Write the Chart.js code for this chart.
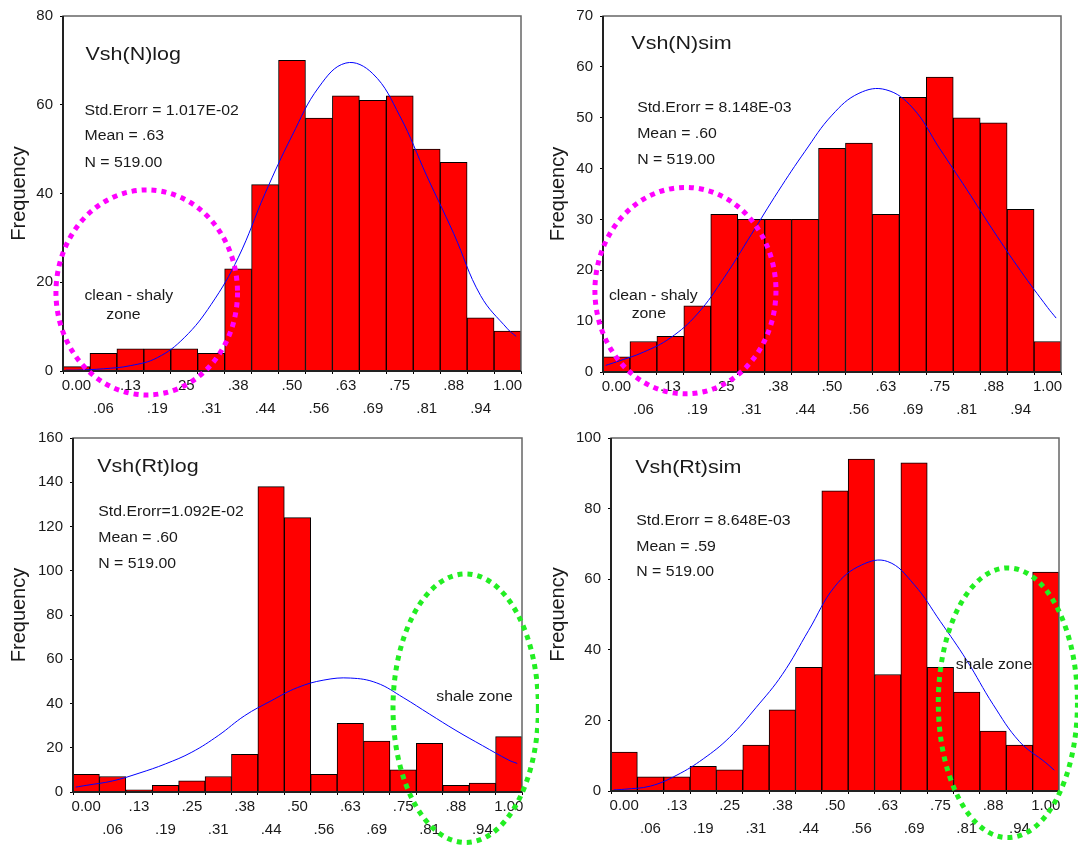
<!DOCTYPE html>
<html>
<head>
<meta charset="utf-8">
<script src="https://cdn.jsdelivr.net/npm/chart.js@4.4.0/dist/chart.umd.min.js"></script>
<style>
  body { margin: 0; background: #fff; }
  #wrap { position: relative; width: 1078px; height: 845px; }
  canvas { position: absolute; }
</style>
</head>
<body>
<div id="wrap">
  <canvas id="c1" width="539" height="422" style="left:0;top:0"></canvas>
  <canvas id="c2" width="539" height="422" style="left:539px;top:0"></canvas>
  <canvas id="c3" width="539" height="423" style="left:0;top:422px"></canvas>
  <canvas id="c4" width="539" height="423" style="left:539px;top:422px"></canvas>
</div>
<script>
// bin labels (bin width 0.0625, as printed by the histogram)
const binLabels = ['0.00', '.06', '.13', '.19', '.25', '.31', '.38', '.44', '.50',
                   '.56', '.63', '.69', '.75', '.81', '.88', '.94', '1.00'];

// bar counts
const vshNLog  = [1, 4, 5, 5, 5, 4, 23, 42, 70, 57, 62, 61, 62, 50, 47, 12, 9];
const vshNSim  = [3, 6, 7, 13, 31, 30, 30, 30, 44, 45, 31, 54, 58, 50, 49, 32, 6];
const vshRtLog = [8, 7, 1, 3, 5, 7, 17, 138, 124, 8, 31, 23, 10, 22, 3, 4, 25];
const vshRtSim = [11, 4, 4, 7, 6, 13, 23, 35, 85, 94, 33, 93, 35, 28, 17, 13, 62];

// normal curve, sampled at the bin centres (plus the two ends)
const curveX = [-0.025, 0, 0.0625, 0.125, 0.1875, 0.25, 0.3125, 0.375, 0.4375, 0.5,
                0.5625, 0.625, 0.6875, 0.75, 0.8125, 0.875, 0.9375, 1, 1.02];
const curveNLog  = [0.2, 0.2, 0.5, 1.2, 3, 7.5, 15, 25.5, 40, 53, 64, 69.4, 67, 57.5, 44, 31, 17, 9.5, 7.8];
const curveNSim  = [1.3, 2, 3.9, 6.7, 11.4, 18.6, 27, 35.5, 43.4, 50.5, 54.8, 55.5, 51.9, 43.9, 35.9, 27.7, 19.9, 12.7, 10.6];
const curveRtLog = [2.2, 3, 5, 8.5, 12.7, 18, 25.5, 34.5, 41.2, 47.2, 50.6, 51.5, 49.3, 42.7, 35.2, 27.8, 21, 14.4, 12.9];
const curveRtSim = [0.3, 0.5, 1.4, 4.5, 9.1, 15.2, 23.6, 33, 45.5, 58, 64, 65, 58.5, 48, 37, 24.5, 14, 8, 5.9];

const FONT = '"Liberation Sans", Arial, sans-serif';
const MAGENTA = '#ff00ff';
const GREEN = '#22ee22';

// frame, texts and dotted ellipses, placed in data units
const notesPlugin = {
  id: 'notes',
  afterDraw(chart, args, opts) {
    const { ctx, chartArea: a } = chart;
    const xs = chart.scales.xl, ys = chart.scales.y;
    ctx.save();
    ctx.strokeStyle = '#666';
    ctx.lineWidth = 1.5;
    ctx.strokeRect(a.left, a.top, a.right - a.left, a.bottom - a.top);
    ctx.strokeStyle = '#222';
    ctx.lineWidth = 2;
    ctx.beginPath();
    ctx.moveTo(a.left, a.top);
    ctx.lineTo(a.left, a.bottom);
    ctx.lineTo(a.right, a.bottom);
    ctx.stroke();

    // the source text is a little wider than it is tall, so stretch it
    ctx.fillStyle = '#1a1a1a';
    ctx.textBaseline = 'middle';
    (opts.texts || []).forEach(t => {
      ctx.save();
      ctx.font = t.size + 'px ' + FONT;
      ctx.textAlign = t.align || 'left';
      ctx.translate(xs.getPixelForValue(t.x), ys.getPixelForValue(t.y));
      ctx.scale(1.13, 1);
      ctx.fillText(t.text, 0, 0);
      ctx.restore();
    });

    const e = opts.ellipse;
    if (e) {
      const cx = xs.getPixelForValue(e.x), cy = ys.getPixelForValue(e.y);
      const rx = xs.getPixelForValue(e.x + e.rx) - cx;
      const ry = cy - ys.getPixelForValue(e.y + e.ry);
      ctx.strokeStyle = e.color;
      ctx.lineWidth = 5;
      ctx.setLineDash([5, 5]);
      ctx.beginPath();
      ctx.ellipse(cx, cy, rx, ry, 0, 0, Math.PI * 2);
      ctx.stroke();
    }
    ctx.restore();
  }
};

function drawPanel(id, counts, curve, yMax, yStep, area, notes) {
  const cv = document.getElementById(id);
  const W = cv.width, H = cv.height;
  return new Chart(cv, {
    type: 'bar',
    data: {
      labels: binLabels,
      datasets: [
        {
          type: 'line',
          data: curveX.map((x, i) => ({ x: x, y: curve[i] })),
          xAxisID: 'xl',
          yAxisID: 'y',
          borderColor: '#0000ff',
          borderWidth: 1,
          pointRadius: 0,
          tension: 0.4,
          fill: false,
          order: 1
        },
        {
          data: counts,
          xAxisID: 'x',
          yAxisID: 'y',
          backgroundColor: '#ff0000',
          borderColor: '#000',
          borderWidth: 1,
          grouped: false,
          barPercentage: 1,
          categoryPercentage: 1,
          order: 2
        }
      ]
    },
    options: {
      responsive: false,
      animation: false,
      events: [],
      layout: { padding: { left: 0, top: area.top, right: W - area.right, bottom: 0 } },
      plugins: { legend: { display: false }, tooltip: { enabled: false }, notes: notes },
      scales: {
        x: {
          type: 'category',
          offset: true,
          border: { display: false },
          grid: { drawOnChartArea: false, drawTicks: true, tickLength: 3, color: '#000' },
          ticks: {
            autoSkip: false,
            maxRotation: 0,
            padding: 0,
            color: '#1a1a1a',
            font: { family: FONT, size: 15, lineHeight: '23px' },
            callback: (v, i) => i % 2 === 0 ? [binLabels[i], ''] : ['', binLabels[i]]
          },
          afterFit: s => { s.height = H - area.bottom; }
        },
        // hidden value axis for the curve and the notes, spanning the bin edges
        xl: { type: 'linear', display: false, offset: false, min: -0.03125, max: 1.03125 },
        y: {
          min: 0,
          max: yMax,
          border: { display: false },
          grid: { drawOnChartArea: false, drawTicks: true, tickLength: 3, color: '#000' },
          ticks: { stepSize: yStep, padding: 7, color: '#1a1a1a', font: { family: FONT, size: 15 } },
          title: {
            display: true,
            text: 'Frequency',
            color: '#1a1a1a',
            padding: { top: 7, bottom: 0 },
            font: { family: FONT, size: 20 }
          },
          afterFit: s => { s.width = area.left; }
        }
      }
    },
    plugins: [notesPlugin]
  });
}

drawPanel('c1', vshNLog, curveNLog, 80, 20, { left: 63, right: 521, top: 13, bottom: 371 }, {
  texts: [
    { text: 'Vsh(N)log', x: 0.021, y: 71.3, size: 19 },
    { text: 'Std.Erorr = 1.017E-02', x: 0.0186, y: 58.6, size: 14 },
    { text: 'Mean = .63', x: 0.0186, y: 52.9, size: 14 },
    { text: 'N = 519.00', x: 0.0186, y: 46.9, size: 14 },
    { text: 'clean - shaly', x: 0.1215, y: 16.8, size: 14, align: 'center' },
    { text: 'zone', x: 0.109, y: 12.6, size: 14, align: 'center' }
  ],
  ellipse: { x: 0.163, y: 17.7, rx: 0.2106, ry: 23.1, color: MAGENTA }
});

drawPanel('c2', vshNSim, curveNSim, 70, 10, { left: 64, right: 522, top: 13, bottom: 372 }, {
  texts: [
    { text: 'Vsh(N)sim', x: 0.0345, y: 64.6, size: 19 },
    { text: 'Std.Erorr = 8.148E-03', x: 0.048, y: 51.9, size: 14 },
    { text: 'Mean = .60', x: 0.048, y: 46.8, size: 14 },
    { text: 'N = 519.00', x: 0.048, y: 41.6, size: 14 },
    { text: 'clean - shaly', x: 0.0854, y: 15, size: 14, align: 'center' },
    { text: 'zone', x: 0.075, y: 11.4, size: 14, align: 'center' }
  ],
  ellipse: { x: 0.160, y: 16.0, rx: 0.210, ry: 20.3, color: MAGENTA }
});

drawPanel('c3', vshRtLog, curveRtLog, 160, 20, { left: 73, right: 522, top: 12, bottom: 370 }, {
  texts: [
    { text: 'Vsh(Rt)log', x: 0.0261, y: 147, size: 19 },
    { text: 'Std.Erorr=1.092E-02', x: 0.0286, y: 126.3, size: 14 },
    { text: 'Mean = .60', x: 0.0286, y: 114.9, size: 14 },
    { text: 'N = 519.00', x: 0.0286, y: 103, size: 14 },
    { text: 'shale zone', x: 0.919, y: 42.7, size: 14, align: 'center' }
  ],
  ellipse: { x: 0.898, y: 37.9, rx: 0.172, ry: 60.7, color: GREEN }
});

drawPanel('c4', vshRtSim, curveRtSim, 100, 20, { left: 72, right: 520, top: 11, bottom: 369 }, {
  texts: [
    { text: 'Vsh(Rt)sim', x: 0.026, y: 91.6, size: 19 },
    { text: 'Std.Erorr = 8.648E-03', x: 0.0286, y: 76.5, size: 14 },
    { text: 'Mean = .59', x: 0.0286, y: 69.2, size: 14 },
    { text: 'N = 519.00', x: 0.0286, y: 62, size: 14 },
    { text: 'shale zone', x: 0.877, y: 35.7, size: 14, align: 'center' }
  ],
  ellipse: { x: 0.910, y: 25, rx: 0.165, ry: 38.2, color: GREEN }
});
</script>
</body>
</html>
